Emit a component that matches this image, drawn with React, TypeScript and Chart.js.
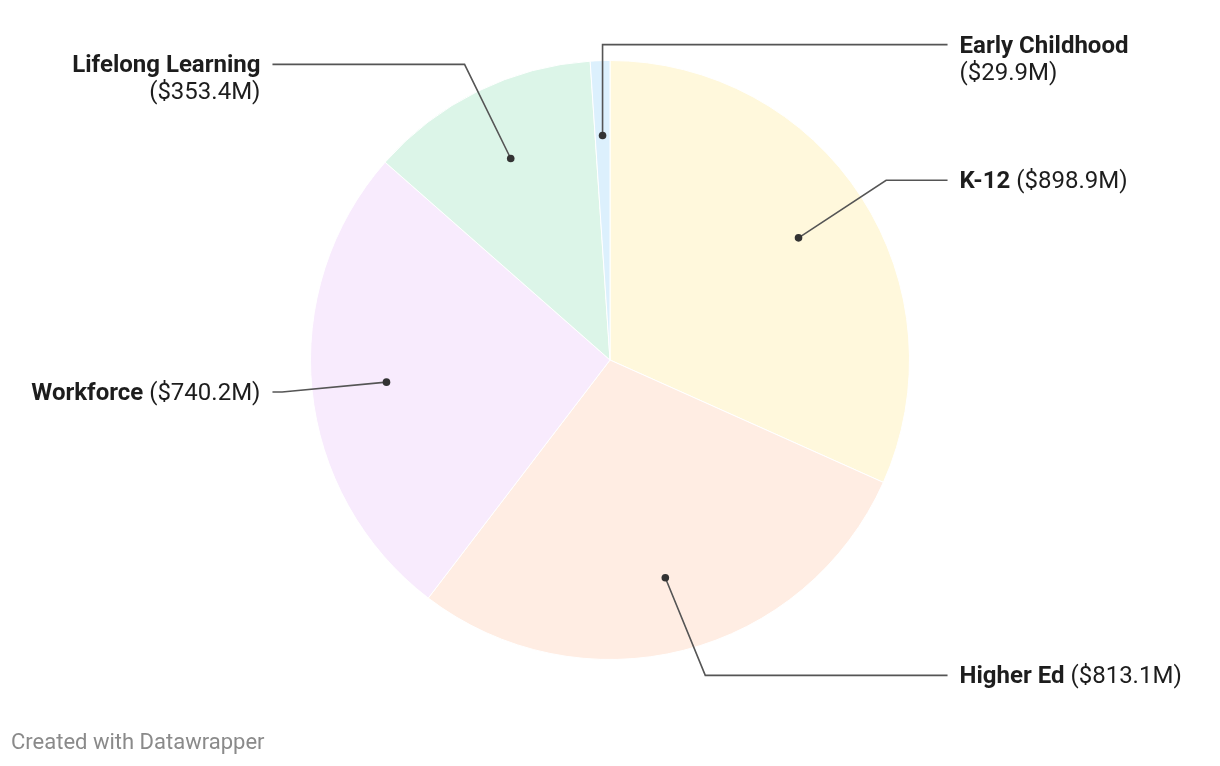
import React, { useEffect, useRef } from "react";
import { Chart, registerables } from "chart.js";

Chart.register(...registerables);

const categories = ["K-12", "Higher Ed", "Workforce", "Lifelong Learning", "Early Childhood"];
const values = [898.9, 813.1, 740.2, 353.4, 29.9];
const valueLabels = ["($898.9M)", "($813.1M)", "($740.2M)", "($353.4M)", "($29.9M)"];
const colors = ["#fff8dc", "#ffede3", "#f8ebfd", "#dcf5e8", "#dcf0fd"];
// label layout: side, vertical offset of first line from pie centre (in radii), two-line, vertical leader
const labelSide = ["right", "right", "left", "left", "right"];
const labelDy = [-0.6, 1.053, 0.107, -0.987, -1.053];
const labelTwoLines = [false, false, false, true, true];
const labelVertical = [false, false, false, false, true];

const FONT = "Roboto, 'Noto Sans', sans-serif";

const leaderPlugin = {
  id: "leaders",
  afterDatasetsDraw(chart: any) {
    const ctx = chart.ctx;
    const meta = chart.getDatasetMeta(0);
    ctx.save();
    meta.data.forEach((arc: any, i: number) => {
      const { x: cx, y: cy, startAngle, endAngle, outerRadius: R } = arc.getProps(
        ["x", "y", "startAngle", "endAngle", "outerRadius"],
        true
      );
      const mid = (startAngle + endAngle) / 2;
      const dotX = cx + Math.cos(mid) * R * 0.75;
      const dotY = cy + Math.sin(mid) * R * 0.75;
      const side = labelSide[i] === "right" ? 1 : -1;
      const ly = cy + labelDy[i] * R;
      const re = R * 1.1;
      const dy = ly - cy;
      let ex: number;
      if (labelVertical[i]) ex = dotX;
      else ex = cx + side * Math.sqrt(Math.max(re * re - dy * dy, 0));
      const lineEnd = cx + side * R * 1.127;
      ctx.strokeStyle = "#555555";
      ctx.lineWidth = 1.6;
      ctx.beginPath();
      ctx.moveTo(dotX, dotY);
      ctx.lineTo(ex, ly);
      ctx.lineTo(lineEnd, ly);
      ctx.stroke();
      ctx.fillStyle = "#333333";
      ctx.beginPath();
      ctx.arc(dotX, dotY, 3.8, 0, Math.PI * 2);
      ctx.fill();

      const tx = lineEnd + side * 12;
      const base = ly + 8;
      ctx.fillStyle = "#1d1d1d";
      ctx.textBaseline = "alphabetic";
      const bold = `bold 24px ${FONT}`;
      const reg = `24px ${FONT}`;
      if (labelTwoLines[i]) {
        ctx.textAlign = side === 1 ? "left" : "right";
        ctx.font = bold;
        ctx.fillText(categories[i], tx, base);
        ctx.font = reg;
        ctx.fillText(valueLabels[i], tx, base + 27);
      } else {
        ctx.textAlign = "left";
        ctx.font = bold;
        const w1 = ctx.measureText(categories[i] + " ").width;
        ctx.font = reg;
        const w2 = ctx.measureText(valueLabels[i]).width;
        const start = side === 1 ? tx : tx - w1 - w2;
        ctx.font = bold;
        ctx.fillText(categories[i], start, base);
        ctx.font = reg;
        ctx.fillText(valueLabels[i], start + w1, base);
      }
    });
    ctx.restore();
  },
};

export default function App() {
  const ref = useRef<HTMLCanvasElement>(null);
  useEffect(() => {
    if (!ref.current) return;
    const chart = new Chart(ref.current, {
      type: "pie",
      data: {
        labels: categories,
        datasets: [
          {
            data: values,
            backgroundColor: colors,
            borderColor: "#ffffff",
            borderWidth: 1,
          },
        ],
      },
      options: {
        animation: false,
        responsive: true,
        maintainAspectRatio: false,
        layout: { padding: { top: 60, bottom: 106, left: 310, right: 310 } },
        plugins: {
          legend: { display: false },
          tooltip: { enabled: false },
        },
      },
      plugins: [leaderPlugin],
    });
    return () => chart.destroy();
  }, []);
  return (
    <div style={{ position: "fixed", left: 0, top: 0, width: 1220, height: 766, background: "#fff" }}>
      <canvas ref={ref} />
      <div
        style={{
          position: "absolute",
          left: 11,
          top: 729,
          fontFamily: FONT,
          fontSize: 22,
          lineHeight: "26px",
          color: "#8a8a8a",
        }}
      >
        Created with Datawrapper
      </div>
    </div>
  );
}
